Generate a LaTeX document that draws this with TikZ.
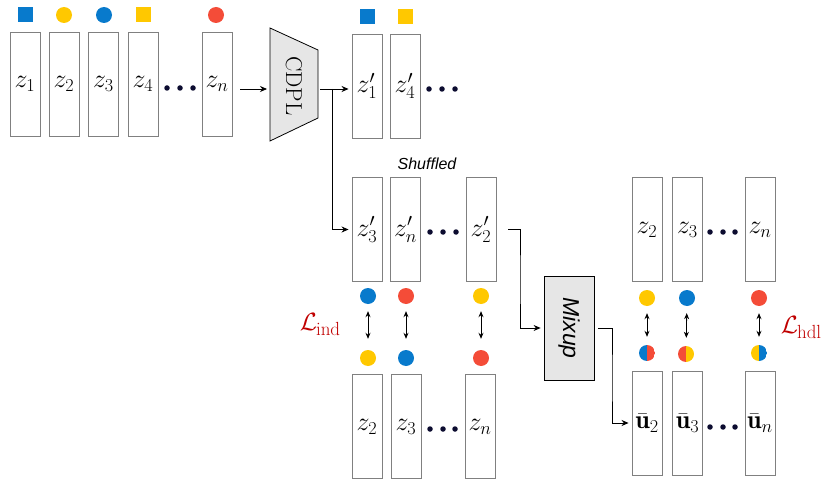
\RequirePackage{fix-cm}
\documentclass[tikz,border=0pt]{standalone}
\usepackage{amsmath}
\usepackage{fontspec}
\newfontfamily\arialfont{Liberation Sans}
\usetikzlibrary{arrows.meta}
\definecolor{myblue}{RGB}{8,122,204}
\definecolor{myyellow}{RGB}{255,200,0}
\definecolor{myred}{RGB}{244,76,56}
\definecolor{navy}{RGB}{12,12,48}
\definecolor{boxgray}{RGB}{128,128,128}
\definecolor{fillgray}{RGB}{230,230,230}
\definecolor{lossred}{RGB}{192,0,0}
\newcommand{\losstext}[1]{$\mathcal{L}$\kern-1pt\raisebox{-5pt}{\fontsize{19}{20}\selectfont #1}}
\begin{document}
\begin{tikzpicture}[x=1pt,y=-1pt,
  vbox/.style={draw=boxgray, line width=0.9pt, minimum width=30pt, minimum height=104pt, inner sep=0pt, font=\fontsize{26}{30}\selectfont},
  ell/.style={circle, fill=navy, inner sep=0pt, minimum size=5.5pt},
  mcirc/.style={circle, fill=#1, inner sep=0pt, minimum size=16pt},
  msq/.style={rectangle, fill=#1, inner sep=0pt, minimum size=15pt},
  half/.style 2 args={circle, inner sep=0pt, minimum size=16pt,
    path picture={\fill[#1] (path picture bounding box.south west) rectangle (path picture bounding box.north);
                  \fill[#2] (path picture bounding box.north) rectangle (path picture bounding box.south east);}},
  arr/.style={-{Stealth[length=7pt,width=6pt]}, line width=0.8pt},
  dbl/.style={{Stealth[length=6pt,width=5pt]}-{Stealth[length=6pt,width=5pt]}, line width=0.8pt},
  loss/.style={text=lossred, font=\fontsize{25}{28}\selectfont, inner sep=0pt}
]
\useasboundingbox (0,0) rectangle (830,484);

% top-left row
\node[vbox] (a1) at (25,84) {$z_1$};
\node[vbox] (a2) at (64,84) {$z_2$};
\node[vbox] (a3) at (103.5,84) {$z_3$};
\node[vbox] (a4) at (143,84) {$z_4$};
\node[vbox] (an) at (217,84) {$z_n$};
\node[ell] (ad1) at (167,88) {};
\node[ell] (ad2) at (180,88) {};
\node[ell] (ad3) at (193,88) {};
\node[msq=myblue] (am1) at (25,15) {};
\node[mcirc=myyellow] (am2) at (64,15) {};
\node[mcirc=myblue] (am3) at (104,15) {};
\node[msq=myyellow] (am4) at (143,15) {};
\node[mcirc=myred] (amn) at (216,15) {};

% CDPL
\coordinate (cdplW) at (270,89);
\coordinate (cdplE) at (318,89);
\filldraw[fill=fillgray, draw=black, line width=0.8pt] (270,28) -- (318,50) -- (318,118) -- (270,141) -- cycle;
\node[rotate=-90, font=\fontsize{23}{26}\selectfont] (cdpl) at (294,86) {CDPL};
\draw[arr, shorten <=8pt, shorten >=3pt] (an.east |- cdplW) -- (cdplW);

% top-right row
\node[vbox] (b1) at (367,86) {$z'_1$};
\node[vbox] (b4) at (405,86) {$z'_4$};
\node[ell] (bd1) at (429,89) {};
\node[ell] (bd2) at (442,89) {};
\node[ell] (bd3) at (455,89) {};
\node[msq=myblue] (bm1) at (367,17) {};
\node[msq=myyellow] (bm4) at (405,17) {};
\coordinate (j1) at (332,89);
\draw[arr, shorten <=2pt, shorten >=3pt] (cdplE) -- (b1.west |- cdplE);

% shuffled row
\node[font=\arialfont\itshape\fontsize{16}{18}\selectfont] (shuf) at (427,164) {Shuffled};
\node[vbox] (c1) at (367,229.5) {$z'_3$};
\node[vbox] (c2) at (405.5,229.5) {$z'_n$};
\node[vbox] (c3) at (481,229.5) {$z'_2$};
\node[ell] (cd1) at (430,232) {};
\node[ell] (cd2) at (443,232) {};
\node[ell] (cd3) at (456,232) {};
\draw[arr, shorten >=3pt] (j1) |- (c1.west);

\node[mcirc=myblue] (cu1) at (368,296) {};
\node[mcirc=myred] (cu2) at (406,296) {};
\node[mcirc=myyellow] (cu3) at (481,296) {};
\node[mcirc=myyellow] (cl1) at (368,358) {};
\node[mcirc=myblue] (cl2) at (406,358) {};
\node[mcirc=myred] (cl3) at (481,358) {};
\draw[dbl, shorten <=7pt, shorten >=11pt] (cu1) -- (cl1);
\draw[dbl, shorten <=7pt, shorten >=11pt] (cu2) -- (cl2);
\draw[dbl, shorten <=7pt, shorten >=11pt] (cu3) -- (cl3);
\node[loss] (lind) at (320,325) {\losstext{ind}};

% bottom-left row
\node[vbox] (d1) at (367,426.5) {$z_2$};
\node[vbox] (d2) at (406,426.5) {$z_3$};
\node[vbox] (d3) at (480,426.5) {$z_n$};
\node[ell] (dd1) at (430,429) {};
\node[ell] (dd2) at (443,429) {};
\node[ell] (dd3) at (455,429) {};

% right top row
\node[vbox] (e1) at (647,229.5) {$z_2$};
\node[vbox] (e2) at (687.5,229.5) {$z_3$};
\node[vbox] (e3) at (760,229.5) {$z_n$};
\node[ell] (ed1) at (710,232) {};
\node[ell] (ed2) at (723,232) {};
\node[ell] (ed3) at (735,232) {};

\node[mcirc=myyellow] (eu1) at (647,298) {};
\node[mcirc=myblue] (eu2) at (687,298) {};
\node[mcirc=myred] (eu3) at (759,298) {};
\node[half={myblue}{myred}] (el1) at (647,353) {};
\node[half={myred}{myyellow}] (el2) at (686,354) {};
\node[half={myyellow}{myblue}] (el3) at (759,353) {};
\draw[dbl, shorten <=7pt, shorten >=8pt] (eu1) -- (el1);
\draw[dbl, shorten <=7pt, shorten >=8pt] (eu2) -- (el2);
\draw[dbl, shorten <=7pt, shorten >=8pt] (eu3) -- (el3);
\node[loss] (lhdl) at (801,328) {\losstext{hdl}};

% right bottom row
\node[vbox] (g1) at (647,423) {$\bar{\mathbf{u}}_2$};
\node[vbox] (g2) at (687.5,423) {$\bar{\mathbf{u}}_3$};
\node[vbox] (g3) at (760,423) {$\bar{\mathbf{u}}_n$};
\node[ell] (gd1) at (710,427) {};
\node[ell] (gd2) at (723,427) {};
\node[ell] (gd3) at (735,427) {};

% Mixup
\node[draw=black, fill=fillgray, line width=0.8pt, minimum width=104pt, minimum height=50pt, inner sep=0pt, rotate=-90,
      font=\arialfont\itshape\fontsize{23}{25}\selectfont] (mix) at (569,328) {Mixup};
\coordinate (k1) at (520,280);
\draw[arr, shorten <=12pt, shorten >=3pt] (c3.east) -| (k1) |- (mix.south);
\coordinate (k2) at (612,380);
\draw[arr, shorten <=4pt, shorten >=3pt] (mix.north) -| (k2) |- (g1.west);
\end{tikzpicture}
\end{document}
